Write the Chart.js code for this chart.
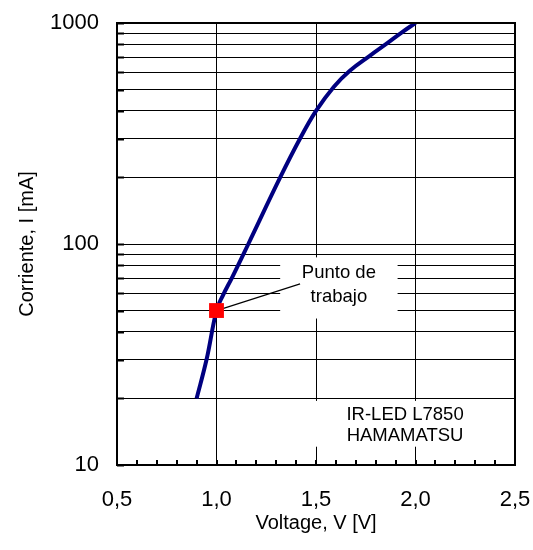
<!DOCTYPE html>
<html>
<head>
<meta charset="utf-8">
<script src="https://cdn.jsdelivr.net/npm/chart.js@4.4.1/dist/chart.umd.min.js"></script>
<style>
  html, body { margin: 0; padding: 0; background: #fff; }
  #wrap { width: 533px; height: 550px; }
</style>
</head>
<body>
<div id="wrap"><canvas id="chart1"></canvas></div>
<script>
// curva I-V del IR-LED
var voltage = [0.9, 0.95, 1.0, 1.03, 1.08, 1.16, 1.32, 1.42, 1.5, 1.59, 1.67, 1.77, 1.86, 1.93, 2.0];
var current = [20, 30, 50, 58, 71, 100, 200, 300, 400, 515, 608, 710, 812, 905, 1000];

// punto de trabajo
var workV = [1.0];
var workI = [50];

var yTicks = [10, 20, 30, 40, 50, 60, 70, 80, 90, 100, 200, 300, 400, 500, 600, 700, 800, 900, 1000];
var yLabels = [10, 100, 1000];
var xLabels = [0.5, 1.0, 1.5, 2.0, 2.5];

var noteWork = ['Punto de', 'trabajo'];
var noteLed = ['IR-LED L7850', 'HAMAMATSU'];

var FONT = "'Liberation Sans', Arial, sans-serif";

function isLabel(v) {
    return xLabels.some(function(m) { return Math.abs(m - v) < 1e-6; });
}

function drawNote(c, xs, ys, lines, x1, x2, i1, i2, lh, dy) {
    var l = xs.getPixelForValue(x1), r = xs.getPixelForValue(x2);
    var t = ys.getPixelForValue(i2), b = ys.getPixelForValue(i1);
    c.save();
    c.fillStyle = '#fff';
    c.fillRect(l, t, r - l, b - t);
    c.fillStyle = '#000';
    c.font = '18.5px ' + FONT;
    c.textAlign = 'center';
    c.textBaseline = 'middle';
    var cx = (l + r) / 2, cy = (t + b) / 2 + dy;
    lines.forEach(function(s, i) {
        c.fillText(s, cx, cy + (i - (lines.length - 1) / 2) * lh);
    });
    c.restore();
}

var notes = {
    id: 'notes',
    beforeDatasetsDraw: function(chart) {
        var c = chart.ctx, xs = chart.scales.x, ys = chart.scales.y;
        drawNote(c, xs, ys, noteWork, 1.32, 1.91, 46, 87, 24, -3);
        drawNote(c, xs, ys, noteLed, 1.445, 2.45, 12.1, 19.5, 21, 1.5);
        // linea al punto de trabajo
        c.save();
        c.strokeStyle = '#000';
        c.lineWidth = 1.3;
        c.beginPath();
        c.moveTo(xs.getPixelForValue(workV[0]), ys.getPixelForValue(workI[0]));
        c.lineTo(xs.getPixelForValue(1.42), ys.getPixelForValue(66));
        c.stroke();
        c.restore();
    },
    afterDraw: function(chart) {
        var c = chart.ctx, a = chart.chartArea, xs = chart.scales.x, ys = chart.scales.y;
        c.save();
        c.strokeStyle = '#000';
        c.lineWidth = 2;
        // marcas menores hacia dentro
        xs.ticks.forEach(function(t) {
            var px = Math.round(xs.getPixelForValue(t.value));
            c.beginPath(); c.moveTo(px, a.bottom); c.lineTo(px, a.bottom - 5); c.stroke();
        });
        ys.ticks.forEach(function(t) {
            var py = Math.round(ys.getPixelForValue(t.value)) + 0.5;
            c.beginPath(); c.moveTo(a.left, py); c.lineTo(a.left + 7, py); c.stroke();
        });
        c.strokeRect(a.left, a.top, a.right - a.left, a.bottom - a.top);
        c.restore();
    }
};

var ctx = document.getElementById('chart1').getContext('2d');
var chart1 = new Chart(ctx, {
    type: 'line',
    data: {
        datasets: [{
            label: 'Punto de trabajo',
            data: workV.map(function(v, i) { return { x: v, y: workI[i] }; }),
            showLine: false,
            pointStyle: 'rect',
            pointRadius: 10.5,
            pointBackgroundColor: '#ff0000',
            pointBorderWidth: 0
        }, {
            label: 'IR-LED L7850',
            data: voltage.map(function(v, i) { return { x: v, y: current[i] }; }),
            borderColor: '#000080',
            borderWidth: 4,
            pointRadius: 0,
            fill: false,
            tension: 0.4
        }]
    },
    options: {
        responsive: true,
        maintainAspectRatio: false,
        animation: false,
        layout: { padding: { left: 0, top: 23, right: 18, bottom: 0 } },
        plugins: { legend: { display: false }, tooltip: { enabled: false } },
        scales: {
            x: {
                type: 'linear',
                min: 0.5,
                max: 2.5,
                afterFit: function(s) { s.height = 85; },
                ticks: {
                    stepSize: 0.1,
                    autoSkip: false,
                    maxRotation: 0,
                    padding: 2,
                    color: '#000',
                    font: { family: FONT, size: 22, lineHeight: 2.97 },
                    callback: function(v) { return isLabel(v) ? v.toFixed(1).replace('.', ',') : ''; }
                },
                grid: {
                    drawTicks: false,
                    lineWidth: 1,
                    color: function(c) { return c.tick && isLabel(c.tick.value) ? '#000' : 'rgba(0,0,0,0)'; }
                },
                border: { display: false },
                title: {
                    display: true,
                    text: 'Voltage, V [V]',
                    color: '#000',
                    font: { family: FONT, size: 20 },
                    padding: { top: 0, bottom: 15 }
                }
            },
            y: {
                type: 'logarithmic',
                min: 10,
                max: 1000,
                afterFit: function(s) { s.width = 117; },
                afterBuildTicks: function(s) { s.ticks = yTicks.map(function(v) { return { value: v }; }); },
                ticks: {
                    autoSkip: false,
                    padding: 18,
                    color: '#000',
                    font: { family: FONT, size: 22, lineHeight: 0.4 },
                    callback: function(v) { return yLabels.indexOf(v) >= 0 ? String(v) : ''; }
                },
                grid: { drawTicks: false, lineWidth: 1, color: '#000' },
                border: { display: false },
                title: {
                    display: true,
                    text: 'Corriente, I [mA]',
                    color: '#000',
                    font: { family: FONT, size: 20 },
                    padding: { top: 15, bottom: 0 }
                }
            }
        }
    },
    plugins: [notes]
});
</script>
</body>
</html>
